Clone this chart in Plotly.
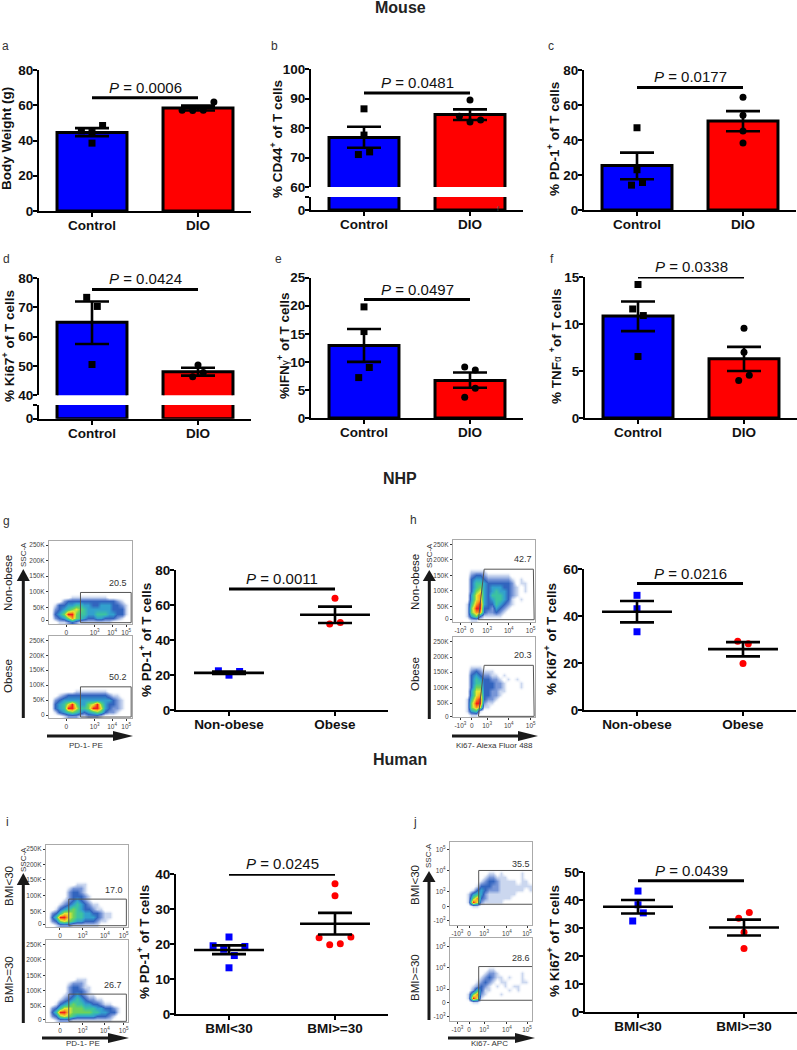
import plotly.graph_objects as go

W, H = 797, 1050
FONT = "Liberation Sans"
BLUE, RED = "#0000FF", "#FF0000"

# ---------- bar panels (mouse) ----------
GROUPS_MOUSE = ["Control", "DIO"]
A_MEAN = [44.6, 58.4]; A_HI = [47.0, 59.8]; A_LO = [42.5, 57.0]
A_CTRL = [45.5, 44.5, 48.5, 38.5]; A_CTRL_DX = [-0.1, 0, 0.1, 0]
A_DIO = [57.2, 57.0, 57.2, 61.8]; A_DIO_DX = [-0.15, -0.05, 0.05, 0.15]
B_MEAN = [76.8, 84.6]; B_HI = [80.4, 86.3]; B_LO = [73.3, 82.7]
B_CTRL = [86.5, 77.6, 71.0, 71.9]; B_CTRL_DX = [0, 0, -0.053, 0.053]
B_DIO = [89.5, 84.0, 82.0, 82.7]; B_DIO_DX = [0, -0.1, 0, 0.1]
C_MEAN = [25.4, 50.8]; C_HI = [32.8, 56.5]; C_LO = [17.6, 45.0]
C_CTRL = [47.0, 23.0, 14.2, 15.7]; C_CTRL_DX = [0, 0, -0.052, 0.052]
C_DIO = [64.5, 54.2, 45.1, 38.3]; C_DIO_DX = [0, 0, 0, 0]
D_MEAN = [64.9, 48.0]; D_HI = [72.0, 49.4]; D_LO = [57.5, 46.7]
D_CTRL = [73.4, 70.3, 50.5]; D_CTRL_DX = [-0.05, 0.05, 0]
D_DIO = [50.3, 46.3, 47.8]; D_DIO_DX = [0, -0.05, 0.05]
E_MEAN = [12.9, 6.7]; E_HI = [15.85, 8.1]; E_LO = [10.0, 5.4]
E_CTRL = [19.8, 15.4, 9.0, 7.2]; E_CTRL_DX = [0, 0, 0.05, -0.05]
E_DIO = [9.1, 8.55, 5.3, 3.7]; E_DIO_DX = [-0.05, 0.05, 0.05, -0.05]
F_MEAN = [10.84, 6.3]; F_HI = [12.4, 7.57]; F_LO = [9.24, 5.0]
F_CTRL = [14.2, 11.6, 10.9, 6.54]; F_CTRL_DX = [0, -0.05, 0.05, 0]
F_DIO = [9.56, 7.0, 4.55, 4.0]; F_DIO_DX = [0, 0, 0.05, -0.05]

# ---------- scatter panels (NHP, human) ----------
GROUPS_NHP = ["Non-obese", "Obese"]
GROUPS_HUMAN = ["BMI<30", "BMI>=30"]
G_MEAN = [21.2, 54.4]; G_HI = [22.0, 59.1]; G_LO = [20.6, 49.7]
G_A = [22.4, 22.0, 19.9]; G_A_DX = [-0.1, 0.1, 0]
G_B = [63.9, 49.1, 50.0]; G_B_DX = [0, -0.05, 0.05]
H_MEAN = [41.8, 25.9]; H_HI = [46.4, 28.9]; H_LO = [37.3, 22.8]
H_A = [48.8, 43.1, 33.3]; H_A_DX = [0, 0, 0]
H_B = [29.3, 28.2, 19.8]; H_B_DX = [-0.05, 0.05, 0]
I_MEAN = [18.3, 25.8]; I_HI = [19.6, 28.9]; I_LO = [17.1, 22.7]
I_A = [22.0, 19.5, 19.3, 18.5, 16.7, 13.2]; I_A_DX = [0, -0.15, 0.15, -0.05, 0.05, 0]
I_B = [37.2, 33.8, 21.8, 22.0, 19.8, 20.1]; I_B_DX = [0, 0, -0.15, 0.15, -0.05, 0.05]
J_MEAN = [37.6, 30.2]; J_HI = [40.0, 33.0]; J_LO = [35.2, 27.3]
J_A = [43.2, 38.3, 35.4, 32.5]; J_A_DX = [0, 0, 0.05, -0.05]
J_B = [35.5, 33.5, 28.5, 22.7]; J_B_DX = [0.05, -0.05, 0, 0]

P_TEXT = ["0.0006", "0.0481", "0.0177", "0.0424", "0.0497", "0.0338", "0.0011", "0.0216", "0.0245", "0.0439"]
P_LEVEL = [64.3, 91.9, 70.0, 76.1, 21.1, 15.0, 69.2, 53.8, 39.9, 46.9]

# ---------- flow-cytometry density sketches: 20 x 20 cells, top row first, digit = density ----------
E = "0" * 20
DENS_G1 = [E]*13 + ["00000111111111000000", "00023333333333332100", "01334455443344433210",
                    "02345676544444433310", "03469965544555443310", "02346865433443332100",
                    "00112321111111100000"]
DENS_G2 = [E]*13 + ["00000011111111000000", "00123333333333211000", "02344444444444432100",
                    "03457964467964332100", "03459975569974322100", "01345654345653221000",
                    "00012221122210000000"]
DENS_H1 = [E]*7 + ["00001111000000000000", "00002332111111000000", "00003443222222101000",
                   "00003554333333201100", "00003564344433210100", "00003674345443210100",
                   "00004784355543210000", "00004784345543101000", "00015894335432100000",
                   "00016993324321000000", "00016883223210000000", "00014631111100000000",
                   "00001100000000000000"]
DENS_H2 = [E]*7 + ["00001110000000000000", "00002321110000000000", "00003432211010000000",
                   "00003543322101010000", "00003553332210001000", "00003663332210001000",
                   "00004773322110000000", "00004783322100000000", "00015893221000000000",
                   "00016992110000000000", "00016871100000000000", "00014510000000000000",
                   "00001100000000000000"]
DENS_I1 = [E]*9 + ["00000001110000000000", "00000122210000000000", "00000233210000000000",
                   "00000233321000000000", "00001234321000000000", "00012345432110000000",
                   "00134565433211000000", "02357765544332110000", "03599765544432110000",
                   "02367654433321100000", "00122211111110000000"]
DENS_I2 = [E]*9 + ["00000001110000000000", "00000122210000000000", "00000233211000000000",
                   "00000233321000000000", "00001234321100000000", "00012345432211000000",
                   "00134565544332110000", "02357766655544332100", "03599766666554433100",
                   "02367654444433321000", "00122211111111110000"]
DENS_J1 = [E]*7 + ["00000000011010000100", "00000000122111000100", "00000001233211110110",
                   "00000013332211111111", "00000134322211111101", "00001454211111110000",
                   "00001683211111100000", "00001972111110000000", "00000110000000000000"] + [E]*4
DENS_J2 = [E]*7 + ["00000000011000000000", "00000000122100000100", "00000001232110100100",
                   "00000012321011000110", "00000123210101011000", "00000253110000101000",
                   "00001682100010000000", "00001971000000000000", "00000110000000000000"] + [E]*4

FLOW_K_TICKS = ["250K", "200K", "150K", "100K", "50K", "0"]
FLOW_X_LONG = ["-10<sup>3</sup>", "0", "10<sup>3</sup>", "10<sup>4</sup>", "10<sup>5</sup>"]
FLOW_X_SHORT = ["0", "10<sup>3</sup>", "10<sup>4</sup>", "10<sup>5</sup>"]
FLOW_LOG_Y = ["10<sup>5</sup>", "10<sup>4</sup>", "10<sup>3</sup>", "0", "-10<sup>3</sup>"]

DENSITY_SCALE = [[0, "rgba(255,255,255,0)"], [1/9, "rgba(190,205,235,0.8)"], [2/9, "rgb(120,150,215)"],
                 [3/9, "rgb(50,100,190)"], [4/9, "rgb(50,160,205)"], [5/9, "rgb(60,195,160)"],
                 [6/9, "rgb(110,210,90)"], [7/9, "rgb(230,230,50)"], [8/9, "rgb(250,150,30)"],
                 [1, "rgb(240,30,30)"]]

fig = go.Figure()
layout = {}
shapes, annos = [], []
axis_n = 0

def fx(p): return p / W
def fy(p): return 1 - p / H

def new_axes(left, right, top, bottom, xcfg, ycfg):
    global axis_n
    axis_n += 1
    s = "" if axis_n == 1 else str(axis_n)
    layout["xaxis" + s] = dict(domain=[fx(left), fx(right)], anchor="y" + s, **xcfg)
    layout["yaxis" + s] = dict(domain=[fy(bottom), fy(top)], anchor="x" + s, **ycfg)
    return "x" + s, "y" + s

BOLD = dict(family=FONT, size=13.5, color="#111", weight=700)
def yaxis_cfg(rng, vals, text=None):
    return dict(range=rng, tickvals=vals, ticktext=text if text else [str(v) for v in vals], showgrid=False,
                zeroline=False, showline=True, linecolor="black", linewidth=2.2, ticks="outside",
                ticklen=4, tickwidth=2.2, tickcolor="black", tickfont=BOLD, ticklabelstandoff=-3)
def xaxis_cfg(groups):
    return dict(range=[-0.5, 1.5], tickvals=[0, 1], ticktext=groups, showgrid=False, zeroline=False,
                showline=True, linecolor="black", linewidth=2.2, ticks="outside", ticklen=4, tickwidth=2.2,
                tickcolor="black", tickfont=BOLD, ticklabelstandoff=-3)

def add_text(px, py, text, size, color="#222", angle=0, bold=False):
    annos.append(dict(xref="paper", yref="paper", x=fx(px), y=fy(py), text=text, showarrow=False,
                      textangle=angle, xanchor="center", yanchor="middle",
                      font=dict(family=FONT, size=size, color=color, weight=700 if bold else 400)))

def add_bars(xa, ya, mean):
    fig.add_trace(go.Bar(x=[0, 1], y=mean, width=0.66, marker=dict(color=[BLUE, RED], line=dict(color="black", width=3)),
                         xaxis=xa, yaxis=ya, showlegend=False, hoverinfo="skip"))

def add_points(xa, ya, a, a_dx, b, b_dx, colors):
    for center, vals, dx, sym, col in ((0, a, a_dx, "square", colors[0]), (1, b, b_dx, "circle", colors[1])):
        fig.add_trace(go.Scatter(x=[center + d for d in dx], y=vals, mode="markers", cliponaxis=False,
                                 marker=dict(symbol=sym, size=7, color=col), xaxis=xa, yaxis=ya, showlegend=False))

def add_errors(xa, ya, mean, hi, lo, mean_line=False):
    up = [h - m for h, m in zip(hi, mean)]
    dn = [m - l for m, l in zip(mean, lo)]
    t = go.Scatter(x=[0, 1], y=mean, mode="markers", marker=dict(size=1, color="black"), cliponaxis=False,
                   error_y=dict(type="data", symmetric=False, array=up, arrayminus=dn, thickness=2.6, width=17, color="black"),
                   xaxis=xa, yaxis=ya, showlegend=False)
    if mean_line:
        t.error_x = dict(type="constant", value=0.33, thickness=2.6, width=0, color="black")
    fig.add_trace(t)

def add_p(xa, ya, level, text):
    fig.add_trace(go.Scatter(x=[0, 1], y=[level, level], mode="lines", cliponaxis=False,
                             line=dict(color="black", width=3), xaxis=xa, yaxis=ya, showlegend=False))
    annos.append(dict(xref=xa, yref=ya, x=0.5, y=level, yshift=10.5, showarrow=False, yanchor="middle",
                      text="<i>P</i> = " + text, font=dict(family=FONT, size=15, color="#111")))

def bar_panel(left, top, bottom, rng, vals, groups, mean, hi, lo, a, adx, b, bdx, p, ptext, title, tx, ty):
    xa, ya = new_axes(left, left + 212, top, bottom, xaxis_cfg(groups), yaxis_cfg(rng, vals))
    add_bars(xa, ya, mean)
    add_points(xa, ya, a, adx, b, bdx, ("black", "black"))
    add_errors(xa, ya, mean, hi, lo)
    add_p(xa, ya, p, ptext)
    add_text(tx, ty, title, 13.5, "#111", -90, True)

def broken_panel(left, top, brk_up, brk_low, bottom, rng_up, vals, groups, mean, hi, lo, a, adx, b, bdx, p, ptext, title, tx, ty):
    xcfg = xaxis_cfg(groups)
    xlow, ylow = new_axes(left, left + 212, brk_low, bottom, xcfg,
                          yaxis_cfg([0, 5], [0, 5], ["0", ""]))
    add_bars(xlow, ylow, mean)
    xup, yup = new_axes(left, left + 212, top, brk_up, dict(range=[-0.5, 1.5], visible=False), yaxis_cfg(rng_up, vals))
    add_bars(xup, yup, mean)
    add_points(xup, yup, a, adx, b, bdx, ("black", "black"))
    add_errors(xup, yup, mean, hi, lo)
    add_p(xup, yup, p, ptext)
    add_text(tx, ty, title, 13.5, "#111", -90, True)

def scatter_panel(left, top, bottom, rng, vals, groups, mean, hi, lo, a, adx, b, bdx, p, ptext, title, tx, ty):
    xa, ya = new_axes(left, left + 212, top, bottom, xaxis_cfg(groups), yaxis_cfg(rng, vals))
    add_points(xa, ya, a, adx, b, bdx, (BLUE, RED))
    add_errors(xa, ya, mean, hi, lo, mean_line=True)
    add_p(xa, ya, p, ptext)
    add_text(tx, ty, title, 13.5, "#111", -90, True)

def flow_panel(left, right, top, bottom, dens, xt, xl, yt, yl, gate, label, lx, ly):
    tf = dict(family=FONT, size=6.5, color="#444")
    common = dict(range=[0, 100], showgrid=False, zeroline=False, showline=True, mirror=True, linecolor="#aaa",
                  linewidth=1.3, ticks="outside", ticklen=2, tickwidth=1, tickcolor="#333", tickfont=tf)
    xa, ya = new_axes(left, right, top, bottom, dict(tickvals=xt, ticktext=xl, **common), dict(tickvals=yt, ticktext=yl, **common))
    z = [[int(c) for c in row] for row in reversed(dens)]
    cells = [2.5 + 5 * i for i in range(20)]
    fig.add_trace(go.Heatmap(z=z, x=cells, y=cells, zmin=0, zmax=9, zsmooth="best", colorscale=DENSITY_SCALE,
                             showscale=False, hoverinfo="skip", xaxis=xa, yaxis=ya))
    fig.add_trace(go.Scatter(x=[v[0] for v in gate], y=[v[1] for v in gate], mode="lines", cliponaxis=False,
                             line=dict(color="#555", width=1), xaxis=xa, yaxis=ya, showlegend=False, hoverinfo="skip"))
    annos.append(dict(xref=xa, yref=ya, x=lx, y=ly, text=label, showarrow=False,
                      font=dict(family=FONT, size=9, color="#333")))

def arrows(vx, vy0, vtip, vbase, hy, hx0, htip, hbase):
    c = "#1a1a1a"
    shapes.append(dict(type="line", xref="paper", yref="paper", x0=fx(vx), x1=fx(vx), y0=fy(vy0), y1=fy(vbase),
                       line=dict(color=c, width=3)))
    shapes.append(dict(type="path", xref="paper", yref="paper", fillcolor=c, line=dict(color=c, width=0),
                       path=f"M {fx(vx-6.5)} {fy(vbase)} L {fx(vx+6.5)} {fy(vbase)} L {fx(vx)} {fy(vtip)} Z"))
    shapes.append(dict(type="line", xref="paper", yref="paper", x0=fx(hx0), x1=fx(hbase), y0=fy(hy), y1=fy(hy),
                       line=dict(color=c, width=3)))
    shapes.append(dict(type="path", xref="paper", yref="paper", fillcolor=c, line=dict(color=c, width=0),
                       path=f"M {fx(hbase)} {fy(hy-5)} L {fx(hbase)} {fy(hy+5)} L {fx(htip)} {fy(hy)} Z"))

GAMMA = '<span style="font-size:10px;font-weight:400">γ</span>'
ALPHA = '<span style="font-size:10px;font-weight:400">α</span>'

# ---------- mouse ----------
bar_panel(39, 70, 211, [0, 80], [0, 20, 40, 60, 80], GROUPS_MOUSE, A_MEAN, A_HI, A_LO, A_CTRL, A_CTRL_DX, A_DIO, A_DIO_DX,
          P_LEVEL[0], P_TEXT[0], "Body Weight (g)", 6, 139)
broken_panel(311, 69, 187, 197, 210, [60, 100], [60, 70, 80, 90, 100], GROUPS_MOUSE, B_MEAN, B_HI, B_LO, B_CTRL, B_CTRL_DX,
             B_DIO, B_DIO_DX, P_LEVEL[1], P_TEXT[1], "% CD44<sup>+</sup> of T cells", 276, 139)
bar_panel(584, 70, 210, [0, 80], [0, 20, 40, 60, 80], GROUPS_MOUSE, C_MEAN, C_HI, C_LO, C_CTRL, C_CTRL_DX, C_DIO, C_DIO_DX,
          P_LEVEL[2], P_TEXT[2], "% PD-1<sup>+</sup> of T cells", 553, 139)
broken_panel(39, 278, 395.3, 405, 418.7, [40, 80], [40, 50, 60, 70, 80], GROUPS_MOUSE, D_MEAN, D_HI, D_LO, D_CTRL, D_CTRL_DX,
             D_DIO, D_DIO_DX, P_LEVEL[3], P_TEXT[3], "% Ki67<sup>+</sup> of T cells", 8, 346)
bar_panel(311, 277.7, 418, [0, 25], [0, 5, 10, 15, 20, 25], GROUPS_MOUSE, E_MEAN, E_HI, E_LO, E_CTRL, E_CTRL_DX, E_DIO, E_DIO_DX,
          P_LEVEL[4], P_TEXT[4], "%IFN" + GAMMA + "<sup>+</sup> of T cells", 283, 346)
bar_panel(585, 277, 418, [0, 15], [0, 5, 10, 15], GROUPS_MOUSE, F_MEAN, F_HI, F_LO, F_CTRL, F_CTRL_DX, F_DIO, F_DIO_DX,
          P_LEVEL[5], P_TEXT[5], "% TNF" + ALPHA + " <sup>+</sup>of T cells", 555, 346)

# ---------- NHP / human ----------
scatter_panel(176, 570, 710, [0, 80], [0, 20, 40, 60, 80], GROUPS_NHP, G_MEAN, G_HI, G_LO, G_A, G_A_DX, G_B, G_B_DX,
              P_LEVEL[6], P_TEXT[6], "% PD-1<sup>+</sup> of T cells", 145, 640)
scatter_panel(584, 569, 710, [0, 60], [0, 20, 40, 60], GROUPS_NHP, H_MEAN, H_HI, H_LO, H_A, H_A_DX, H_B, H_B_DX,
              P_LEVEL[7], P_TEXT[7], "% Ki67<sup>+</sup> of T cells", 550, 639)
scatter_panel(176, 874, 1014, [0, 40], [0, 10, 20, 30, 40], GROUPS_HUMAN, I_MEAN, I_HI, I_LO, I_A, I_A_DX, I_B, I_B_DX,
              P_LEVEL[8], P_TEXT[8], "% PD-1<sup>+</sup> of T cells", 143, 942)
scatter_panel(585, 872, 1012, [0, 50], [0, 10, 20, 30, 40, 50], GROUPS_HUMAN, J_MEAN, J_HI, J_LO, J_A, J_A_DX, J_B, J_B_DX,
              P_LEVEL[9], P_TEXT[9], "% Ki67<sup>+</sup> of T cells", 553, 941)

# ---------- flow plots ----------
gx = [21, 55, 76, 93]
flow_panel(49, 132, 541, 624, DENS_G1, gx, FLOW_X_SHORT, [95, 76.7, 57.8, 39, 20, 4.8], FLOW_K_TICKS,
           [(37.9, 1.6), (37.9, 38), (99, 38), (99, 1.6), (37.9, 1.6)], "20.5", 82.7, 50)
flow_panel(49, 132, 636, 718, DENS_G2, gx, FLOW_X_SHORT, [94.7, 76.5, 58.3, 40, 21.7, 3.5], FLOW_K_TICKS,
           [(37.9, 1.2), (37.9, 38), (99, 38), (99, 1.2), (37.9, 1.2)], "50.2", 82.7, 49.8)
hx = [9, 23, 41.6, 68, 94.7]
flow_panel(453, 535, 540, 622, DENS_H1, hx, FLOW_X_LONG, [94.7, 76, 57, 38.5, 19, 3.6], FLOW_K_TICKS,
           [(31, 2.8), (38, 64.4), (98, 64.4), (99, 2.8), (31, 2.8)], "42.7", 85.7, 77)
flow_panel(453, 535, 637, 717, DENS_H2, hx, FLOW_X_LONG, [94.6, 75, 56, 36.7, 17.5, 0.8], FLOW_K_TICKS,
           [(31, 0.8), (38, 64.6), (98, 64.6), (99, 0.8), (31, 0.8)], "20.3", 85.7, 77)
ix = [17, 44.8, 71.8, 94.8]
flow_panel(46, 128, 845, 927, DENS_I1, ix, FLOW_X_SHORT, [95, 75.7, 57.5, 38, 19, 3.6], FLOW_K_TICKS,
           [(27.8, 1.6), (27.8, 34), (98, 34), (98, 1.6), (27.8, 1.6)], "17.0", 83, 45)
flow_panel(46, 128, 940, 1022, DENS_I2, ix, FLOW_X_SHORT, [94.7, 76, 57, 38, 19.4, 2.8], FLOW_K_TICKS,
           [(27.8, 0.8), (27.8, 34), (98, 34), (98, 0.8), (27.8, 0.8)], "26.7", 82, 45.3)
jx = [9, 23.3, 41.6, 69.4, 93.9]
flow_panel(450, 532, 842, 925, DENS_J1, jx, FLOW_X_LONG, [90.7, 65.3, 40.3, 22.2, 5.2], FLOW_LOG_Y,
           [(100, 25), (35, 25), (35, 65.7), (100, 65.7)], "35.5", 86.5, 73.8)
flow_panel(450, 532, 938, 1021, DENS_J2, jx, FLOW_X_LONG, [90, 64.8, 38.5, 22.3, 5], FLOW_LOG_Y,
           [(100, 25), (35, 25), (35, 65.6), (100, 65.6)], "28.6", 86.5, 75.7)

arrows(23.3, 718, 569, 581, 736, 47, 133, 113)
arrows(429.3, 719, 570, 581, 736, 452, 538, 518)
arrows(23.3, 1023, 873, 885, 1038, 42, 129, 108)
arrows(429, 1020, 871, 882, 1038, 448, 535, 515)

# ---------- free text ----------
for t, y in (("Mouse", 7), ("NHP", 478), ("Human", 759)):
    add_text(400, y, t, 16, "#222", 0, True)
for t, x, y in (("a", 5, 46), ("b", 274, 46), ("c", 551, 46), ("d", 6, 259), ("e", 278, 259), ("f", 552, 259),
                ("g", 6, 521), ("h", 413, 520), ("i", 7, 822), ("j", 415, 822)):
    add_text(x, y, t, 12, "#333")
add_text(498, 208, "f", 7, "#555")
for t, x, y in (("Non-obese", 8, 583), ("Obese", 8, 676), ("Non-obese", 415, 582), ("Obese", 415, 674),
                ("BMI<30", 9, 886), ("BMI>=30", 9, 980), ("BMI<30", 415, 885), ("BMI>=30", 415, 978)):
    add_text(x, y, t, 11.5, "#222", -90)
for x, y in ((23, 555), (429, 555), (23, 860), (428, 856)):
    add_text(x, y, "SSC-A", 8, "#333", -90)
for t, x, y in (("PD-1- PE", 86, 745), ("Ki67- Alexa Fluor 488", 494, 745), ("PD-1- PE", 83, 1043.5), ("Ki67- APC", 490, 1043.5)):
    add_text(x, y, t, 8, "#333")

fig.update_layout(width=W, height=H, margin=dict(l=0, r=0, t=0, b=0, autoexpand=False), paper_bgcolor="white", plot_bgcolor="rgba(0,0,0,0)",
                  showlegend=False, barmode="overlay", shapes=shapes, annotations=annos,
                  font=dict(family=FONT), **layout)
fig.write_html("out.html", config={"displayModeBar": False},
               post_script="document.body.style.margin='0';document.body.style.overflow='hidden';")
